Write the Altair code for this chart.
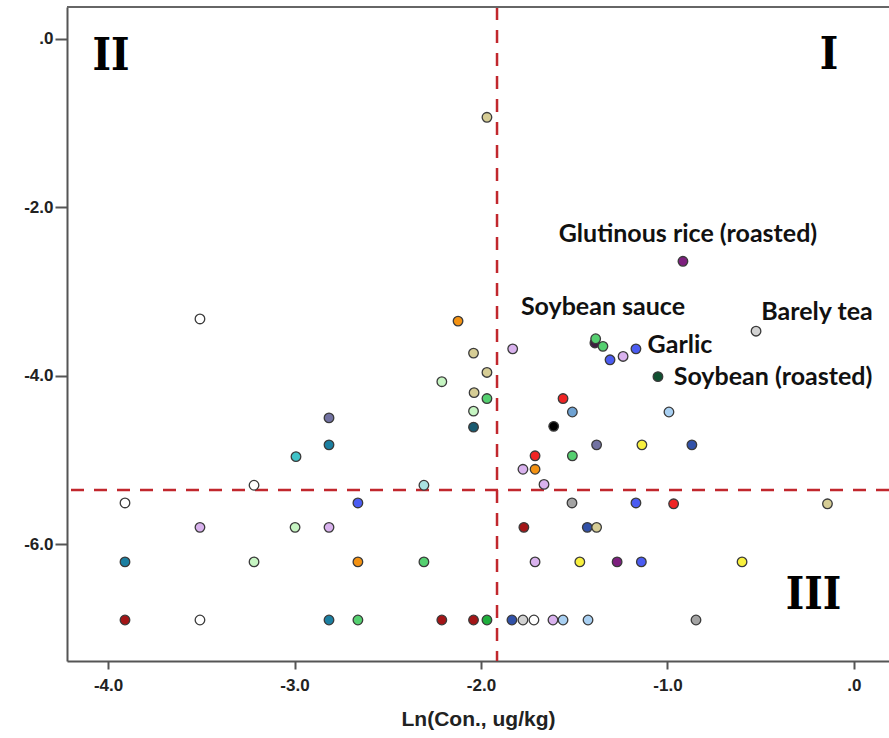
import altair as alt
import pandas as pd

# ---- data ----
pt_x = [
    # y = -6.90 row
    -3.909, -3.507, -2.815, -2.660, -2.210, -2.040, -1.968, -1.834, -1.775, -1.716, -1.614, -1.560, -1.426, -0.847,
    # y = -6.21 row
    -3.909, -3.217, -2.660, -2.306, -1.710, -1.470, -1.270, -1.140, -0.600,
    # y = -5.80 row
    -3.507, -2.997, -2.815, -1.770, -1.430, -1.380,
    # y = -5.51 row
    -3.909, -2.660, -1.512, -1.169, -0.967, -0.142,
    # y = -5.30 row
    -3.217, -2.306, -1.662,
    # scattered points
    -3.507, -2.992, -2.815, -2.815,
    -1.968, -2.123, -2.040, -1.968, -2.210, -2.037, -1.968, -2.040, -2.040,
    -1.830, -1.389, -1.385, -1.346, -1.308, -1.238, -1.169, -1.051,
    -1.560, -1.510, -0.992, -1.610, -1.380, -1.137, -0.869,
    -1.710, -1.510, -1.775, -1.710,
    -0.917, -0.525,
]
pt_y = [
    -6.90, -6.90, -6.90, -6.90, -6.90, -6.90, -6.90, -6.90, -6.90, -6.90, -6.90, -6.90, -6.90, -6.90,
    -6.21, -6.21, -6.21, -6.21, -6.21, -6.21, -6.21, -6.21, -6.21,
    -5.80, -5.80, -5.80, -5.80, -5.80, -5.80,
    -5.51, -5.51, -5.51, -5.51, -5.52, -5.52,
    -5.30, -5.30, -5.29,
    -3.325, -4.96, -4.50, -4.82,
    -0.93, -3.35, -3.73, -3.96, -4.07, -4.20, -4.27, -4.42, -4.61,
    -3.68, -3.61, -3.56, -3.65, -3.81, -3.77, -3.68, -4.01,
    -4.27, -4.43, -4.43, -4.60, -4.82, -4.82, -4.82,
    -4.95, -4.95, -5.11, -5.11,
    -2.64, -3.47,
]
pt_group = [
    "darkred", "white", "tealblue", "green", "darkred", "darkred", "brightgreen", "darkblue", "lightgray", "white", "lavender", "lightblue", "lightblue", "gray",
    "tealblue", "palegreen", "orange", "green", "lavender", "yellow", "purple", "blue", "yellow",
    "lavender", "palegreen", "lavender", "darkred", "darkblue", "khaki",
    "white", "blue", "gray", "blue", "red", "khaki",
    "white", "lightcyan", "lavender",
    "white", "cyan", "slate", "tealblue",
    "khaki", "orange", "khaki", "khaki", "palegreen", "khaki", "green", "palegreen", "darkteal",
    "lavender", "darkpurple", "green", "green", "blue", "lavender", "blue", "darkgreen",
    "red", "steelblue", "lightblue", "black", "slate", "yellow", "darkblue",
    "red", "green", "lavender", "orange",
    "purple", "lightgray",
]

palette = {
    "white": "#ffffff", "lavender": "#d9b2ee", "palegreen": "#c6f5c2", "cyan": "#3fc3c8",
    "lightcyan": "#a9e2e2", "blue": "#4b5cf2", "tealblue": "#1b7fa1", "orange": "#f49212",
    "green": "#55d070", "brightgreen": "#1fae3c", "darkred": "#a31517", "khaki": "#d6cd95",
    "gray": "#a3a3a3", "lightgray": "#d2d2d2", "red": "#f02424", "darkblue": "#3151a8",
    "yellow": "#f8f03e", "purple": "#7d1f7e", "lightblue": "#a9d0f2", "slate": "#7272a2",
    "darkteal": "#185a70", "steelblue": "#6fa2d2", "black": "#000000", "darkgreen": "#0f5030",
    "darkpurple": "#3d1e40",
}

ann_text = ["Glutinous rice (roasted)", "Soybean sauce", "Barely tea", "Garlic", "Soybean (roasted)"]
ann_x = [-0.890, -1.346, -0.198, -0.933, -0.434]
ann_y = [-2.316, -3.180, -3.240, -3.630, -4.010]

quad_text = ["II", "I", "III"]
quad_x = [-3.984, -0.134, -0.217]
quad_y = [-0.21, -0.20, -6.61]

x_cut = -1.914
y_cut = -5.356

x_dom = [-4.22, 0.188]
y_dom = [-7.387, 0.38]

pts = pd.DataFrame({"x": pt_x, "y": pt_y, "c": [palette[g] for g in pt_group]})
ann = pd.DataFrame({"x": ann_x, "y": ann_y, "t": ann_text})
quad = pd.DataFrame({"x": quad_x, "y": quad_y, "t": quad_text})

lab = "datum.value == 0 ? '.0' : (datum.value < 0 ? '-' : '') + format(abs(datum.value), '.1f')"

xsc = alt.Scale(domain=x_dom, nice=False, zero=False)
ysc = alt.Scale(domain=y_dom, nice=False, zero=False)

axis_common = dict(
    grid=False, domainColor="#555555", domainWidth=2, tickColor="#555555", tickWidth=2,
    labelFont="Liberation Sans", labelFontWeight="bold", labelFontSize=17, labelColor="#222222",
    labelExpr=lab,
)

base_pts = alt.Chart(pts).mark_point(
    filled=True, size=92, stroke="#3a3a3a", strokeWidth=1.3, opacity=1
).encode(
    x=alt.X("x:Q", scale=xsc, axis=alt.Axis(
        values=[-4, -3, -2, -1, 0], tickSize=8, labelPadding=8,
        title="Ln(Con., ug/kg)", titleFont="Liberation Sans", titleFontWeight="bold",
        titleFontSize=21, titleColor="#222222", titlePadding=15, **axis_common)),
    y=alt.Y("y:Q", scale=ysc, axis=alt.Axis(
        values=[0, -2, -4, -6], tickSize=12, labelPadding=2, title=None, **axis_common)),
    fill=alt.Fill("c:N", scale=None),
)

vline = alt.Chart(pd.DataFrame({"x": [x_cut]})).mark_rule(
    color="#c1272d", strokeWidth=2.5, strokeDash=[13, 10]
).encode(x=alt.X("x:Q", scale=xsc))

hline = alt.Chart(pd.DataFrame({"y": [y_cut]})).mark_rule(
    color="#c1272d", strokeWidth=2.5, strokeDash=[13, 10]
).encode(y=alt.Y("y:Q", scale=ysc))

top_border = alt.Chart(pd.DataFrame({"a": [0]})).mark_rule(
    color="#666666", strokeWidth=2
).encode(x=alt.value(0), x2=alt.value(822), y=alt.value(0))

ann_layer = alt.Chart(ann).mark_text(
    font="Lato", fontWeight="bold", fontSize=25, color="#111111", align="center", baseline="middle"
).encode(x=alt.X("x:Q", scale=xsc), y=alt.Y("y:Q", scale=ysc), text="t:N")

quad_layer = alt.Chart(quad).mark_text(
    font="DejaVu Serif Condensed, DejaVu Serif", fontWeight="bold", fontSize=44, color="#000000",
    align="center", baseline="middle"
).encode(x=alt.X("x:Q", scale=xsc), y=alt.Y("y:Q", scale=ysc), text="t:N")

chart = alt.layer(
    hline, vline, base_pts, top_border, ann_layer, quad_layer
).properties(
    width=822, height=654,
    autosize=alt.AutoSizeParams(type="none"),
    padding={"left": 67, "top": 7, "right": 0, "bottom": 77},
    background="white",
).configure_view(stroke=None)

chart.save("out.html", embed_options={"renderer": "svg", "actions": False})
